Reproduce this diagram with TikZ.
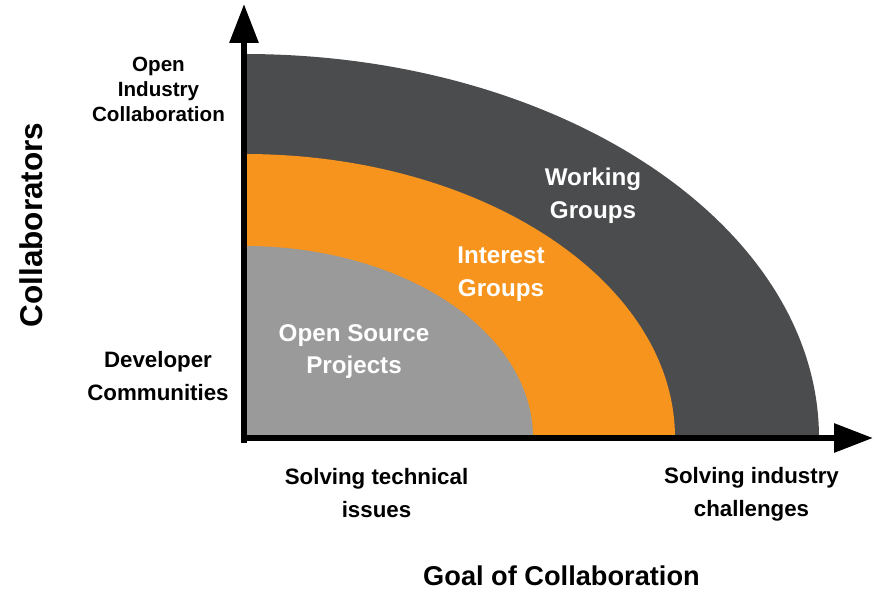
\documentclass[tikz,border=0pt]{standalone}
\usepackage{fontspec}
\setmainfont{Liberation Sans}
\usetikzlibrary{arrows.meta}
\definecolor{wgcolor}{HTML}{4B4C4E}
\definecolor{igcolor}{HTML}{F7941D}
\definecolor{oscolor}{HTML}{9A9A9A}

\begin{document}
\begin{tikzpicture}[x=1pt,y=1pt,
  axis/.style={line width=6pt},
  sidelbl/.style={font=\bfseries\fontsize{22.3}{33}\selectfont, align=center, inner sep=0},
  arealbl/.style={font=\bfseries\fontsize{24.2}{32.5}\selectfont, align=center, inner sep=0, text=white}]
\useasboundingbox (0,0) rectangle (874,591);
\coordinate (origin) at (244,153);
% quarter ellipses, outer first
\fill [wgcolor] (origin) -- (819,153) arc[start angle=0, end angle=90, x radius=575, y radius=384] -- cycle;
\fill [igcolor] (origin) -- (675,153) arc[start angle=0, end angle=90, x radius=431, y radius=284] -- cycle;
\fill [oscolor] (origin) -- (533,153) arc[start angle=0, end angle=90, x radius=289, y radius=192] -- cycle;
% axes
\coordinate (xstart) at (241,153);
\coordinate (xtip) at (873,153);
\coordinate (ystart) at (244,148);
\coordinate (ytip) at (244,587);
\draw [axis] [-{Triangle[width=28pt,length=39pt]}] (xstart) -- (xtip);
\draw [axis] [-{Triangle[width=28pt,length=39pt]}] (ystart) -- (ytip);
% labels in the areas
\node [arealbl] (wg) at (593,395.5) {Working\\Groups};
\node [arealbl] (ig) at (501,317) {Interest\\Groups};
\node [arealbl] (osp) at (354,239.5) {Open Source\\Projects};
% labels on the axes
\node [sidelbl, font=\bfseries\fontsize{20.6}{25}\selectfont] (industry) at (158.5,501.6) {Open\\Industry\\Collaboration};
\node [sidelbl] (devcomm) at (158,215) {Developer\\Communities};
\node [sidelbl] (technical) at (376.5,97.5) {Solving technical\\issues};
\node [sidelbl] (challenges) at (751.5,97) {Solving industry\\challenges};
\node [font=\bfseries\fontsize{27.2}{32}\selectfont, inner sep=0] (goal) at (561.5,15) {Goal of Collaboration};
\node [font=\bfseries\fontsize{31.5}{36}\selectfont, inner sep=0, rotate=90] (collab) at (31.5,366) {Collaborators};
\end{tikzpicture}
\end{document}
